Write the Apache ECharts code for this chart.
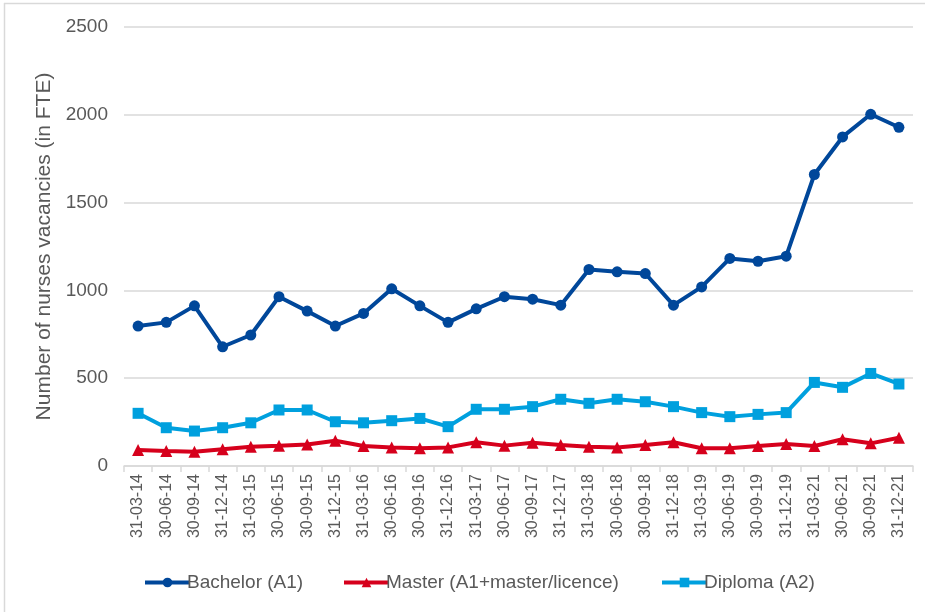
<!DOCTYPE html>
<html>
<head>
<meta charset="utf-8">
<script src="https://cdn.jsdelivr.net/npm/echarts@6/dist/echarts.min.js"></script>
<style>
html,body{margin:0;padding:0;background:#fff;}
#chart{width:925px;height:612px;}
</style>
</head>
<body>
<div id="chart"></div>
<script>
const categories = ['31-03-14','30-06-14','30-09-14','31-12-14','31-03-15','30-06-15','30-09-15','31-12-15','31-03-16','30-06-16','30-09-16','31-12-16','31-03-17','30-06-17','30-09-17','31-12-17','31-03-18','30-06-18','30-09-18','31-12-18','31-03-19','30-06-19','30-09-19','31-12-19','31-03-21','30-06-21','30-09-21','31-12-21'];
const bachelor = [797,818,912,679,746,964,882,797,869,1009,912,818,895,964,950,916,1119,1106,1096,916,1020,1182,1166,1195,1660,1874,2003,1929];
const master = [91,85,81,95,110,116,123,144,114,106,101,106,135,116,133,120,110,106,120,135,101,101,114,125,114,152,129,161];
const diploma = [300,218,199,218,246,319,319,252,246,258,271,224,323,323,338,380,357,380,366,338,304,281,294,304,476,448,527,467];
const yTicks = {min:0, max:2500, interval:500};
const seriesNames = ['Bachelor (A1)','Master (A1+master/licence)','Diploma (A2)'];

const FONT = 'Liberation Sans, Arial, sans-serif';
const TXT = '#595959';
const chart = echarts.init(document.getElementById('chart'), null, {renderer:'canvas'});
const legendBase = {
  bottom: 15, itemWidth: 45, itemHeight: 12, itemGap: 0,
  lineStyle: {width: 4},
  textStyle: {fontFamily: FONT, fontSize: 19, color: TXT, padding: [0,0,0,-8]},
  selectedMode: false
};
chart.setOption({
  backgroundColor: '#fff',
  animation: false,
  graphic: [
    {type:'line', shape:{x1:4,y1:3.5,x2:925,y2:3.5}, style:{stroke:'#D9D9D9', lineWidth:1.5}},
    {type:'line', shape:{x1:4.5,y1:3,x2:4.5,y2:612}, style:{stroke:'#D9D9D9', lineWidth:1.5}}
  ],
  legend: [
    Object.assign({}, legendBase, {left: 138, data:[seriesNames[0]]}),
    Object.assign({}, legendBase, {left: 337, data:[seriesNames[1]]}),
    Object.assign({}, legendBase, {left: 655, data:[seriesNames[2]]})
  ],
  grid: {left: 124, right: 12, top: 27, bottom: 146, containLabel: false},
  xAxis: {
    type: 'category',
    data: categories,
    boundaryGap: true,
    axisLine: {lineStyle: {color: '#D9D9D9', width: 1.5}},
    axisTick: {show: true, length: 6, lineStyle: {color: '#D9D9D9', width: 1.5}},
    axisLabel: {rotate: 90, interval: 0, fontFamily: FONT, fontSize: 16, color: TXT, margin: 8}
  },
  yAxis: {
    type: 'value',
    min: yTicks.min, max: yTicks.max, interval: yTicks.interval,
    name: 'Number of nurses vacancies (in FTE)',
    nameLocation: 'middle', nameGap: 64, nameRotate: 90,
    nameTextStyle: {fontFamily: FONT, fontSize: 21, color: TXT},
    axisLine: {show: false}, axisTick: {show: false},
    axisLabel: {fontFamily: FONT, fontSize: 19, color: TXT, margin: 16, formatter: v => String(v)},
    splitLine: {lineStyle: {color: '#D9D9D9', width: 1.5}}
  },
  series: [
    {name: seriesNames[0], type: 'line', data: bachelor, symbol: 'circle', symbolSize: 11,
     itemStyle: {color: '#00479A'}, lineStyle: {width: 4, color: '#00479A'}, z: 3},
    {name: seriesNames[1], type: 'line', data: master, symbol: 'triangle', symbolSize: 12,
     itemStyle: {color: '#D6001C'}, lineStyle: {width: 4, color: '#D6001C'}, z: 2},
    {name: seriesNames[2], type: 'line', data: diploma, symbol: 'rect', symbolSize: 11,
     itemStyle: {color: '#00A0DE'}, lineStyle: {width: 4, color: '#00A0DE'}, z: 2}
  ]
});
</script>
</body>
</html>
